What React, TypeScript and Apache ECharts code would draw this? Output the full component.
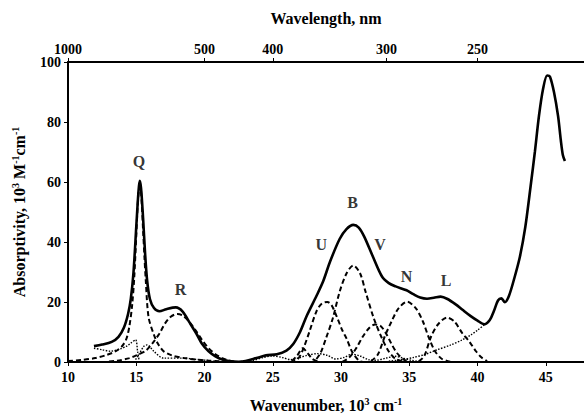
import React, { useEffect, useRef } from "react";
import * as echarts from "echarts";

// Total absorption spectrum (wavenumber 10^3 cm^-1, absorptivity 10^3 M^-1 cm^-1)
const totalSpectrum: number[][] = [
  [11.9, 5.3], [12.5, 5.8], [13.2, 6.7], [13.7, 8.4], [14.1, 11.5], [14.4, 16], [14.6, 21],
  [14.8, 30], [15.0, 45], [15.15, 56], [15.25, 60.4], [15.35, 58], [15.5, 48], [15.65, 36],
  [15.8, 27], [16.0, 21], [16.3, 18], [16.7, 16.9], [17.2, 17.6], [17.9, 18.2], [18.4, 16.8],
  [18.9, 13.2], [19.4, 9.5], [19.8, 6.2], [20.3, 3.6], [20.8, 1.9], [21.3, 0.8], [21.9, 0.2],
  [22.5, 0.1], [23.0, 0.3], [23.8, 1.3], [24.5, 2.2], [25.3, 2.6], [26.0, 3.8], [26.5, 6],
  [27.0, 10], [27.5, 15.5], [28.2, 22], [28.7, 27], [29.2, 33.5], [29.9, 41], [30.4, 44.3],
  [30.9, 45.7], [31.3, 44.8], [31.7, 41.8], [32.3, 35.5], [33.0, 28.5], [33.5, 26.3],
  [34.0, 25.2], [34.8, 23.9], [35.3, 22.6], [35.8, 21.5], [36.3, 21.1], [36.8, 21.4],
  [37.3, 21.8], [37.8, 21], [38.4, 19.2], [38.9, 17.4], [39.5, 15.3], [40.0, 13.8],
  [40.5, 12.6], [40.9, 14], [41.2, 17], [41.5, 20.5], [41.75, 21.2], [42.0, 19.9], [42.3, 22],
  [42.7, 28], [43.1, 35], [43.5, 45], [43.9, 59], [44.2, 70], [44.5, 82], [44.8, 91],
  [45.1, 95.5], [45.3, 95.2], [45.6, 90], [45.9, 82], [46.1, 74], [46.25, 69], [46.4, 67],
];

// Fitted bands (bold dashed)
const bandQ: number[][] = [
  [10.0, 0.3], [11.0, 0.7], [12.0, 1.3], [12.8, 2.3], [13.5, 3.6], [14.0, 5.5], [14.3, 8],
  [14.5, 12], [14.7, 19], [14.85, 28], [15.0, 42], [15.1, 52], [15.2, 57.5], [15.3, 58.5],
  [15.4, 53], [15.5, 44], [15.6, 35], [15.7, 27], [15.9, 15], [16.3, 9], [16.6, 6],
  [17.0, 3.6], [17.6, 2.2], [18.5, 1.3], [20.2, 0.5], [21.5, 0.2],
];
const bandR: number[][] = [
  [13.0, 0.2], [13.6, 0.4], [14.5, 1.3], [15.0, 2.2], [15.7, 3.8], [16.2, 6.3], [16.7, 9.5],
  [17.1, 12.8], [17.5, 15], [18.0, 16], [18.4, 15.5], [18.9, 13.3], [19.4, 10.2],
  [19.9, 6.8], [20.3, 4.6], [20.8, 2.6], [21.3, 1.3], [21.8, 0.5], [22.3, 0.1],
];
const bandSmall: number[][] = [
  [26.4, 0.3], [26.8, 2.2], [27.2, 4.6], [27.55, 3], [27.9, 1], [28.3, 0.2],
];
const bandU: number[][] = [
  [26.3, 0], [26.8, 0.8], [27.2, 4], [27.7, 10.3], [28.2, 16.9], [28.6, 19.5], [29.0, 20],
  [29.3, 19], [29.7, 15], [30.1, 10.5], [30.4, 7.9], [30.8, 3.5], [31.3, 0.5], [31.6, 0],
];
const bandB: number[][] = [
  [28.2, 1], [28.5, 3], [28.9, 7.9], [29.4, 14.6], [29.9, 23.4], [30.4, 29.5], [30.9, 32.2],
  [31.4, 29.5], [31.8, 23.4], [32.4, 14.6], [33.0, 7.9], [33.5, 3.5], [34.0, 1], [34.5, 0.2],
];
const bandV: number[][] = [
  [30.1, 0], [30.6, 1.5], [31.1, 4.5], [31.6, 8.5], [32.1, 11.5], [32.5, 12.5], [32.9, 12],
  [33.3, 9.5], [33.7, 6], [34.1, 3], [34.6, 0.8], [35.1, 0],
];
const bandN: number[][] = [
  [32.2, 0.3], [32.7, 2.5], [33.2, 8.5], [33.7, 13.5], [34.2, 17.8], [34.85, 20.1],
  [35.5, 17.8], [36.0, 13.5], [36.4, 8.5], [36.9, 3.5], [37.4, 1], [38.0, 0.1],
];
const bandL: number[][] = [
  [35.7, 0.2], [36.1, 2], [36.6, 8.5], [37.1, 12.5], [37.75, 14.8], [38.3, 13.5],
  [38.9, 9.5], [39.4, 6.8], [39.9, 3.5], [40.3, 1.5], [40.7, 0.3],
];

// Minor components (thin dotted)
const minorA: number[][] = [
  [11.9, 4.6], [12.5, 4.1], [13.1, 3.6], [13.8, 4.3], [14.3, 5.3], [14.6, 6.3], [14.95, 7.4],
  [15.1, 3.5], [15.2, 0.8],
];
const minorB: number[][] = [
  [14.95, 0.8], [15.2, 2.5], [15.55, 5.2], [15.8, 5.7], [16.3, 3.5], [17.0, 1.3],
  [18.5, 1.3], [19.3, 0.9], [20.2, 0.5], [21.0, 0.1],
];
const minorC: number[][] = [
  [22.0, 0], [23.5, 0.5], [24.3, 1.5], [25.0, 2], [25.7, 1.5], [26.3, 0.8], [27.0, 1.5],
  [27.5, 2.2], [28.3, 2.8], [29.0, 2.2], [29.6, 1], [30.2, 1.5], [30.8, 2.6], [31.4, 2],
  [32.0, 0.8], [32.6, 0.6], [33.3, 1.3], [34.0, 1.9], [34.6, 1.2], [35.2, 0.5], [36.0, 0],
];
const minorD: number[][] = [
  [33.5, 0.3], [34.5, 0.8], [35.3, 1.5], [36.2, 2.6], [37.0, 4], [38.0, 5.6], [38.8, 7.2],
  [39.5, 9], [40.0, 10.6], [40.5, 12.4],
];

// Band labels
const bandNames = ["Q", "R", "U", "B", "V", "N", "L"];
const bandLabelX = [15.2, 18.25, 28.55, 30.85, 32.85, 34.8, 37.7];
const bandLabelY = [67, 24.5, 39.4, 53.3, 39.4, 28.8, 27.3];

// Axes
const xTicks = [10, 15, 20, 25, 30, 35, 40, 45];
const wavelengthTicks = [1000, 500, 400, 300, 250];

const SERIF = "'Liberation Serif', 'Times New Roman', serif";

export default function App() {
  const ref = useRef<HTMLDivElement>(null);
  useEffect(() => {
    if (!ref.current) return;
    const chart = echarts.init(ref.current, null, { renderer: "svg" });
    const solid = (data: number[][], w: number) => ({
      type: "line",
      data,
      showSymbol: false,
      smooth: 0.3,
      lineStyle: { color: "#000", width: w, type: "solid" },
      z: 5,
    });
    const dashed = (data: number[][]) => ({
      type: "line",
      data,
      showSymbol: false,
      smooth: 0.3,
      lineStyle: { color: "#000", width: 2, type: [5, 3] },
      z: 4,
    });
    const dotted = (data: number[][]) => ({
      type: "line",
      data,
      showSymbol: false,
      smooth: 0.3,
      lineStyle: { color: "#000", width: 1.4, type: [1.5, 1.5] },
      z: 3,
    });
    const tickStyle = { color: "#000", fontFamily: SERIF, fontWeight: "bold", fontSize: 14 };
    const nameStyle = {
      color: "#000",
      fontFamily: SERIF,
      fontWeight: "bold",
      fontSize: 16,
      rich: {
        sup: { fontFamily: SERIF, fontWeight: "bold", fontSize: 10, verticalAlign: "top", padding: [0, 0, 8, 0], color: "#000" },
      },
    };
    const xMin = 10;
    const xMax = 47.8;
    chart.setOption({
      animation: false,
      grid: { left: 68, right: 0, top: 62, bottom: 54 },
      xAxis: [
        {
          type: "value",
          min: xMin,
          max: xMax,
          interval: 5,
          position: "bottom",
          name: "Wavenumber, 10{sup|3} cm{sup|-1}",
          nameLocation: "middle",
          nameGap: 34,
          nameTextStyle: nameStyle,
          axisLine: { lineStyle: { color: "#000", width: 2 } },
          axisTick: { length: 4, lineStyle: { color: "#000", width: 1 }, customValues: xTicks },
          axisLabel: { ...tickStyle, margin: 8, customValues: xTicks },
          splitLine: { show: false },
        },
        {
          type: "value",
          min: xMin,
          max: xMax,
          position: "top",
          name: "Wavelength, nm",
          nameLocation: "middle",
          nameGap: 36,
          nameTextStyle: nameStyle,
          axisLine: { lineStyle: { color: "#000", width: 2 } },
          axisTick: { length: 4, lineStyle: { color: "#000", width: 1 }, customValues: wavelengthTicks.map((w) => 1e4 / w) },
          axisLabel: {
            ...tickStyle,
            margin: 6,
            customValues: wavelengthTicks.map((w) => 1e4 / w),
            formatter: (v: number) => String(Math.round(1e4 / v)),
          },
          splitLine: { show: false },
        },
      ],
      yAxis: {
        type: "value",
        min: 0,
        max: 100,
        interval: 20,
        name: "Absorptivity, 10{sup|3} M{sup|-1}cm{sup|-1}",
        nameLocation: "middle",
        nameGap: 40,
        nameTextStyle: nameStyle,
        axisLine: { show: true, lineStyle: { color: "#000", width: 2 } },
        axisTick: { show: true, length: 4, lineStyle: { color: "#000", width: 1 } },
        axisLabel: { ...tickStyle, margin: 7 },
        splitLine: { show: false },
      },
      series: [
        solid(totalSpectrum, 2.6),
        dashed(bandQ),
        dashed(bandR),
        dashed(bandSmall),
        dashed(bandU),
        dashed(bandB),
        dashed(bandV),
        dashed(bandN),
        dashed(bandL),
        dotted(minorA),
        dotted(minorB),
        dotted(minorC),
        dotted(minorD),
        {
          type: "scatter",
          symbol: "circle",
          symbolSize: 1,
          itemStyle: { color: "rgba(0,0,0,0)" },
          data: bandNames.map((n, i) => ({ name: n, value: [bandLabelX[i], bandLabelY[i]] })),
          label: {
            show: true,
            position: "top",
            distance: -9,
            formatter: "{b}",
            color: "#000",
            fontFamily: SERIF,
            fontWeight: "bold",
            fontSize: 16,
          },
          z: 6,
        },
      ],
    });
    return () => chart.dispose();
  }, []);
  return <div ref={ref} style={{ width: 584, height: 418, position: "absolute", left: 0, top: 0 }} />;
}
